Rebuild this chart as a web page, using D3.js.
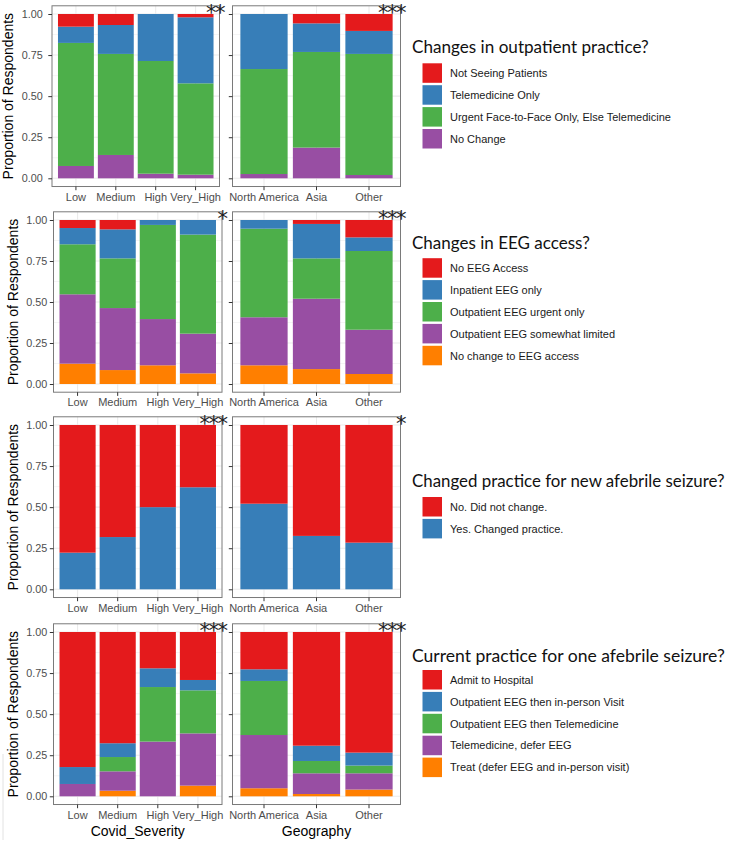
<!DOCTYPE html>
<html>
<head>
<meta charset="utf-8">
<script src="https://cdn.jsdelivr.net/npm/d3@7"></script>
<style>
  html, body { margin: 0; padding: 0; background: #ffffff; }
  svg { display: block; }
</style>
</head>
<body>
<svg id="chart" width="735" height="842"></svg>
<script>
// ---------------- DATA ----------------
const severityCats = ["Low", "Medium", "High", "Very_High"];
const geographyCats = ["North America", "Asia", "Other"];
const yTicks = [0, 0.25, 0.5, 0.75, 1];
const yMinorTicks = [0.125, 0.375, 0.625, 0.875];
const facetTitles = ["Covid_Severity", "Geography"];
const yTitle = "Proportion of Respondents";

// Colours (ColorBrewer Set1)
const setColors = ["#E41A1C", "#377EB8", "#4DAF4A", "#984EA3", "#FF7F00"];

// Q1: Changes in outpatient practice?  (values: Low, Medium, High, Very_High, North America, Asia, Other)
const q1Title = "Changes in outpatient practice?";
const q1Levels = ["Not Seeing Patients", "Telemedicine Only", "Urgent Face-to-Face Only, Else Telemedicine", "No Change"];
const q1NotSeeing   = [0.077, 0.067, 0.000, 0.020, 0.000, 0.057, 0.103];
const q1Telemed     = [0.099, 0.176, 0.286, 0.402, 0.335, 0.174, 0.140];
const q1Urgent      = [0.749, 0.615, 0.686, 0.556, 0.639, 0.582, 0.737];
const q1NoChange    = [0.075, 0.142, 0.028, 0.022, 0.026, 0.187, 0.020];
const q1Stars = ["**", "***"];

// Q2: Changes in EEG access?
const q2Title = "Changes in EEG access?";
const q2Levels = ["No EEG Access", "Inpatient EEG only", "Outpatient EEG urgent only", "Outpatient EEG somewhat limited", "No change to EEG access"];
const q2NoAccess    = [0.049, 0.057, 0.000, 0.000, 0.000, 0.024, 0.106];
const q2Inpatient   = [0.099, 0.177, 0.030, 0.089, 0.053, 0.210, 0.083];
const q2Urgent      = [0.305, 0.303, 0.574, 0.604, 0.540, 0.246, 0.480];
const q2Limited     = [0.423, 0.378, 0.282, 0.242, 0.293, 0.429, 0.270];
const q2NoChange    = [0.124, 0.085, 0.114, 0.065, 0.114, 0.091, 0.061];
const q2Stars = ["*", "***"];

// Q3: Changed practice for new afebrile seizure?
const q3Title = "Changed practice for new afebrile seizure?";
const q3Levels = ["No. Did not change.", "Yes. Changed practice."];
const q3No  = [0.777, 0.682, 0.500, 0.379, 0.479, 0.675, 0.716];
const q3Yes = [0.223, 0.318, 0.500, 0.621, 0.521, 0.325, 0.284];
const q3Stars = ["***", "*"];

// Q4: Current practice for one afebrile seizure?
const q4Title = "Current practice for one afebrile seizure?";
const q4Levels = ["Admit to Hospital", "Outpatient EEG then in-person Visit", "Outpatient EEG then Telemedicine", "Telemedicine, defer EEG", "Treat (defer EEG and in-person visit)"];
const q4Admit    = [0.822, 0.677, 0.221, 0.292, 0.227, 0.692, 0.734];
const q4InPerson = [0.103, 0.084, 0.114, 0.063, 0.071, 0.093, 0.079];
const q4EEGTele  = [0.000, 0.087, 0.332, 0.262, 0.329, 0.075, 0.047];
const q4TeleDefer= [0.075, 0.118, 0.333, 0.318, 0.324, 0.126, 0.099];
const q4Treat    = [0.000, 0.034, 0.000, 0.065, 0.049, 0.014, 0.041];
const q4Stars = ["***", "***"];

const questions = [
  { title: q1Title, levels: q1Levels, series: [q1NotSeeing, q1Telemed, q1Urgent, q1NoChange], stars: q1Stars },
  { title: q2Title, levels: q2Levels, series: [q2NoAccess, q2Inpatient, q2Urgent, q2Limited, q2NoChange], stars: q2Stars },
  { title: q3Title, levels: q3Levels, series: [q3No, q3Yes], stars: q3Stars },
  { title: q4Title, levels: q4Levels, series: [q4Admit, q4InPerson, q4EEGTele, q4TeleDefer, q4Treat], stars: q4Stars }
];

// ---------------- LAYOUT ----------------
const layout = [
  { y1: 14.0, y0: 178.3, left: [52, 219.5], right: [232.5, 400.5], tickPad: 5.5, yTitleX: 13, legTitleY: 52.5, legTitleW: 237, keyY: 63.3 },
  { y1: 220.0, y0: 384.0, left: [53.5, 222], right: [232.5, 400.5], tickPad: 2.5, yTitleX: 18, legTitleY: 248.5, legTitleW: 178, keyY: 258.2 },
  { y1: 425.0, y0: 589.3, left: [53.5, 222], right: [232.5, 400.5], tickPad: 2.5, yTitleX: 18, legTitleY: 486.5, legTitleW: 313, keyY: 497 },
  { y1: 632.0, y0: 796.3, left: [53.5, 222], right: [232.5, 400.5], tickPad: 2.5, yTitleX: 18, legTitleY: 661.5, legTitleW: 313, keyY: 670 }
];

const FONT = "'Liberation Sans', Arial, Helvetica, sans-serif";
const TITLEFONT = "Lato, 'Open Sans', sans-serif";
const svg = d3.select("#chart");
svg.append("rect").attr("width", 735).attr("height", 842).attr("fill", "#fff");

questions.forEach((q, qi) => {
  const L = layout[qi];
  const y = d3.scaleLinear().domain([0, 1]).range([L.y0, L.y1]);
  const top = y(1.05), bottom = y(-0.05);
  const nLev = q.levels.length;
  const keysBottomUp = d3.range(nLev).reverse();

  const facets = [
    { cats: severityCats, range: L.left, offset: 0, showY: true, star: q.stars[0], title: facetTitles[0] },
    { cats: geographyCats, range: L.right, offset: severityCats.length, showY: false, star: q.stars[1], title: facetTitles[1] }
  ];

  facets.forEach(f => {
    const x = d3.scaleBand().domain(f.cats).range(f.range).paddingInner(0.1).paddingOuter(0.15);
    const g = svg.append("g");
    const rows = f.cats.map((c, i) => {
      const o = { cat: c };
      q.series.forEach((s, li) => { o["k" + li] = s[f.offset + i]; });
      return o;
    });
    // gridlines
    const grid = g.append("g");
    yMinorTicks.forEach(t => grid.append("line")
      .attr("x1", f.range[0]).attr("x2", f.range[1]).attr("y1", y(t)).attr("y2", y(t))
      .attr("stroke", "#EBEBEB").attr("stroke-width", 0.55));
    yTicks.forEach(t => grid.append("line")
      .attr("x1", f.range[0]).attr("x2", f.range[1]).attr("y1", y(t)).attr("y2", y(t))
      .attr("stroke", "#EBEBEB").attr("stroke-width", 1.07));
    f.cats.forEach(c => grid.append("line")
      .attr("x1", x(c) + x.bandwidth() / 2).attr("x2", x(c) + x.bandwidth() / 2)
      .attr("y1", top).attr("y2", bottom)
      .attr("stroke", "#EBEBEB").attr("stroke-width", 1.07));

    // bars
    const stack = d3.stack().keys(keysBottomUp.map(k => "k" + k));
    const layers = stack(rows);
    layers.forEach(layer => {
      const li = +layer.key.slice(1);
      g.append("g").attr("fill", setColors[li])
        .selectAll("rect").data(layer).join("rect")
        .attr("x", d => x(d.data.cat))
        .attr("width", x.bandwidth())
        .attr("y", d => y(d[1]))
        .attr("height", d => Math.max(0, y(d[0]) - y(d[1])));
    });

    // panel border
    g.append("rect").attr("x", f.range[0]).attr("y", top)
      .attr("width", f.range[1] - f.range[0]).attr("height", bottom - top)
      .attr("fill", "none").attr("stroke", "#7a7a7a").attr("stroke-width", 1);

    // y axis
    const yAxis = d3.axisLeft(y).tickValues(yTicks).tickFormat(d3.format(".2f"))
      .tickSize(3.7).tickPadding(f.showY ? L.tickPad : 0);
    const ya = g.append("g").attr("transform", `translate(${f.range[0]},0)`).call(yAxis);
    ya.select(".domain").remove();
    ya.selectAll(".tick line").attr("stroke", "#333").attr("stroke-width", 1);
    ya.selectAll(".tick text").attr("fill", "#4D4D4D").style("font-family", FONT).style("font-size", "10.8px");
    if (!f.showY) ya.selectAll(".tick text").remove();

    // x axis
    const xAxis = d3.axisBottom(x).tickSize(3.7).tickPadding(2.5);
    const xa = g.append("g").attr("transform", `translate(0,${bottom})`).call(xAxis);
    xa.select(".domain").remove();
    xa.selectAll(".tick line").attr("stroke", "#333").attr("stroke-width", 1);
    xa.selectAll(".tick text").attr("fill", "#4D4D4D").style("font-family", FONT).style("font-size", "11px");

    // significance stars
    g.append("text").attr("x", f.range[1] + 4.5).attr("y", top + 14)
      .attr("text-anchor", "end")
      .style("font-family", "'DejaVu Sans', sans-serif").style("font-size", "21px")
      .style("letter-spacing", "-1.5px")
      .attr("fill", "#222").text(f.star);

    // facet axis title (bottom row only)
    if (qi === questions.length - 1) {
      svg.append("text").attr("x", (f.range[0] + f.range[1]) / 2).attr("y", 835.5)
        .attr("text-anchor", "middle").style("font-family", FONT).style("font-size", "14px")
        .attr("fill", "#000").text(f.title);
    }
  });

  // y axis title
  svg.append("text")
    .attr("transform", `translate(${L.yTitleX},${(top + bottom) / 2}) rotate(-90)`)
    .attr("text-anchor", "middle").style("font-family", FONT).style("font-size", "14px")
    .attr("fill", "#000").text(yTitle);

  // legend
  const leg = svg.append("g");
  const lt = leg.append("text").attr("x", 412).attr("y", L.legTitleY)
    .style("font-family", TITLEFONT).style("font-size", "19px").attr("fill", "#111")
    .text(q.title);
  const w = lt.node().getComputedTextLength();
  if (w > 0) lt.style("font-size", (19 * L.legTitleW / w).toFixed(2) + "px");
  q.levels.forEach((lab, i) => {
    const ky = L.keyY + i * 21.9;
    leg.append("rect").attr("x", 422.5).attr("y", ky).attr("width", 19.5).attr("height", 19.5)
      .attr("fill", setColors[i]);
    leg.append("text").attr("x", 450).attr("y", ky + 9.75 + 4)
      .style("font-family", FONT).style("font-size", "11px").attr("fill", "#1a1a1a").text(lab);
  });
});

// faint stray line at bottom-left of the original figure
svg.append("line").attr("x1", 3).attr("x2", 3).attr("y1", 754).attr("y2", 840)
  .attr("stroke", "#e2e2e2").attr("stroke-width", 1);
</script>
</body>
</html>
